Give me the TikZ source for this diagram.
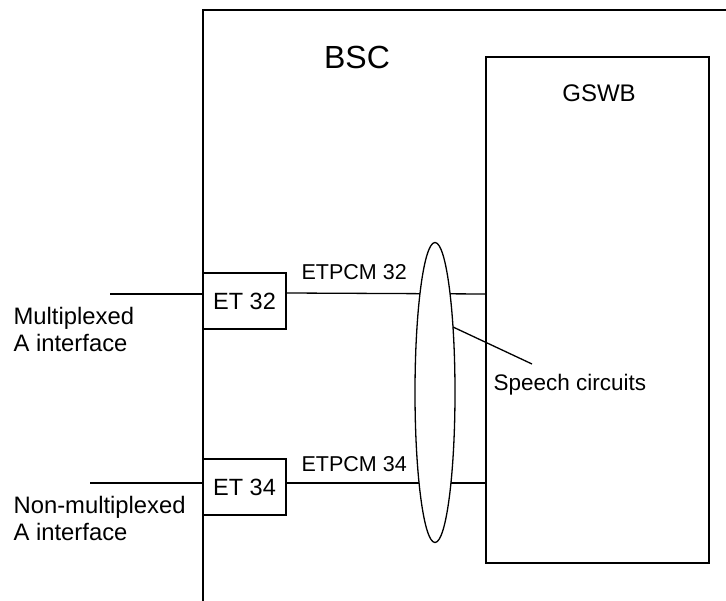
\documentclass[tikz,border=0pt]{standalone}
\usepackage{fontspec}
\setmainfont{Liberation Sans}
\usetikzlibrary{calc}
\begin{document}
\begin{tikzpicture}[x=1pt,y=-1pt,line width=1.3pt,
  etbox/.style={draw,minimum width=83pt,minimum height=56pt,inner sep=0pt,font=\fontsize{23.5}{27}\selectfont},
  lbl/.style={inner sep=0pt,anchor=base west},
  side/.style={inner sep=0pt,anchor=west,align=left,font=\fontsize{23.8}{27}\selectfont}]
\useasboundingbox (0,0) rectangle (726,601);
% BSC frame
\coordinate (bscbot) at (203,601);
\coordinate (bsctop) at (203,10);
\coordinate (bscright) at (727,10);
\draw (bscbot) -- (bsctop) -- (bscright);
\node[inner sep=0pt,font=\fontsize{32}{36}\selectfont] (bsc) at (357,57) {BSC};
% GSWB
\node[draw,minimum width=223pt,minimum height=506pt,inner sep=0pt] (gswb) at (597.5,310) {};
\node[inner sep=0pt,font=\fontsize{24}{28}\selectfont] (gswbl) at (599,93) {GSWB};
% ET boxes
\node[etbox] (et32) at (244.5,301) {ET 32};
\node[etbox] (et34) at (244.5,487) {ET 34};
% external lines
\coordinate (in32) at (110,294);
\coordinate (in34) at (90,483);
\draw (in32) -- (in32 -| et32.west);
\draw (in34) -- (in34 -| et34.west);
\node[side] (mux) at (13,329) {Multiplexed\\A interface};
\node[side] (nmux) at (13,518) {Non-multiplexed\\A interface};
% ETPCM lines
\draw (et32.east |- 0,293) -- (gswb.west |- 0,294);
\draw (et34.east |- 0,483) -- (gswb.west |- 0,483);
\node[lbl,font=\fontsize{21.5}{25}\selectfont] (etpcm32) at (301,279.5) {ETPCM 32};
\node[lbl,font=\fontsize{21.5}{25}\selectfont] (etpcm34) at (301,471.5) {ETPCM 34};
% speech circuits ellipse
\draw[fill=white] (435,392.5) ellipse [x radius=20, y radius=150];
\coordinate (ellpt) at (453,327);
\coordinate (spend) at (532,364);
\draw (ellpt) -- (spend);
\node[lbl,font=\fontsize{22.5}{26}\selectfont] (speech) at (493,391) {Speech circuits};
\end{tikzpicture}
\end{document}
